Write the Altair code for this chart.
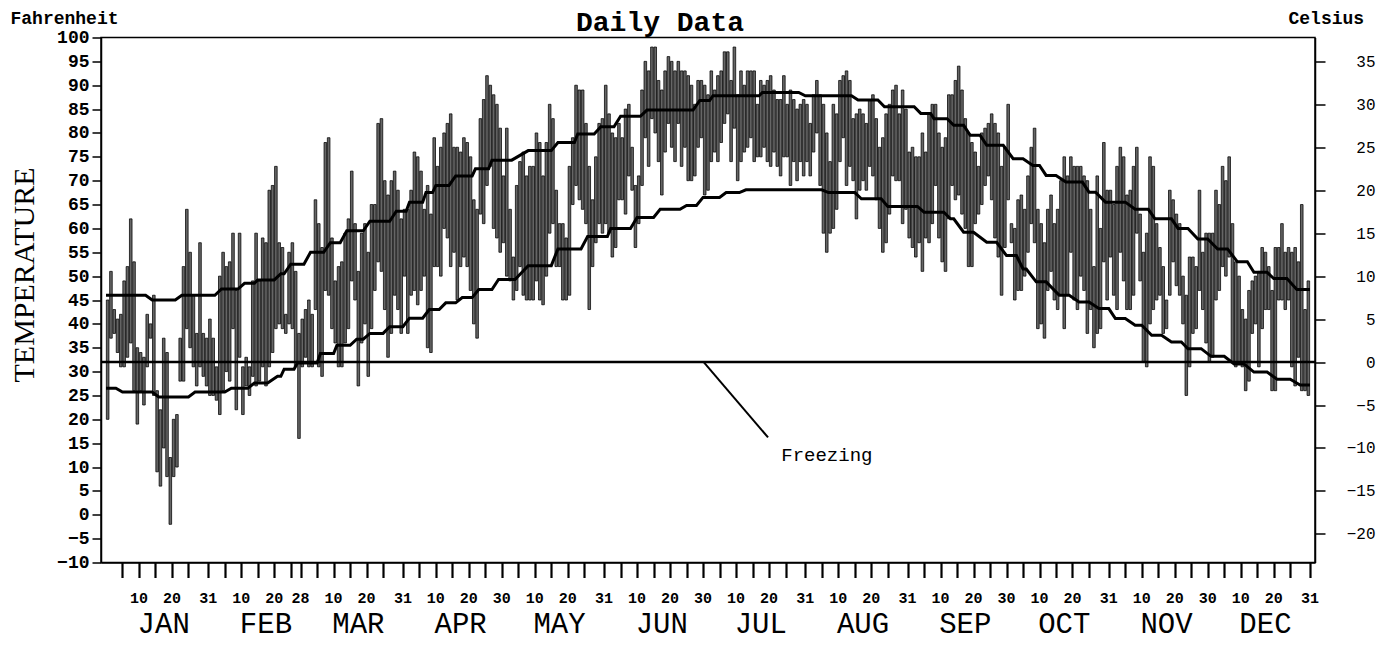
import altair as alt
import pandas as pd

# ---------------- data ----------------
MONTHS = ["JAN", "FEB", "MAR", "APR", "MAY", "JUN", "JUL", "AUG", "SEP", "OCT", "NOV", "DEC"]
MONTH_DAYS = [31, 28, 31, 30, 31, 30, 31, 31, 30, 31, 30, 31]

hi_jan = [45, 51, 43, 41, 42, 49, 52, 62, 53, 35, 34, 33, 42, 40, 46, 26, 22, 37, 34, 12, 20, 21, 37, 52, 64, 55, 46, 38, 57, 38, 37]
lo_jan = [20, 37, 38, 34, 31, 31, 33, 36, 26, 19, 26, 23, 31, 37, 25, 9, 6, 14, 8, -2, 8, 10, 28, 28, 39, 35, 31, 27, 31, 29, 27]
hi_feb = [41, 37, 31, 50, 55, 52, 53, 59, 47, 59, 31, 33, 31, 49, 59, 49, 58, 57, 68, 69, 73, 57, 56, 42, 55, 57, 51, 38]
lo_feb = [25, 25, 24, 21, 26, 30, 28, 39, 22, 33, 21, 27, 25, 29, 27, 28, 31, 27, 31, 34, 39, 40, 39, 38, 40, 39, 31, 16]
hi_mar = [41, 43, 45, 42, 66, 61, 56, 78, 79, 58, 49, 52, 53, 59, 62, 72, 61, 51, 59, 61, 55, 65, 65, 82, 83, 70, 67, 70, 72, 68, 62]
lo_mar = [31, 33, 31, 31, 43, 31, 29, 47, 46, 39, 36, 31, 31, 36, 39, 49, 45, 27, 36, 40, 29, 39, 47, 53, 51, 43, 33, 38, 46, 43, 38]
hi_apr = [64, 64, 68, 76, 75, 72, 64, 69, 63, 79, 73, 77, 80, 82, 84, 77, 77, 76, 79, 78, 75, 66, 64, 83, 87, 92, 90, 88, 86, 81]
lo_apr = [50, 38, 46, 47, 44, 47, 50, 35, 34, 52, 52, 50, 60, 58, 52, 55, 45, 52, 54, 52, 47, 40, 37, 63, 61, 69, 73, 60, 58, 55]
hi_may = [71, 81, 64, 54, 69, 74, 76, 71, 73, 73, 80, 78, 71, 78, 86, 83, 68, 61, 61, 58, 73, 79, 90, 89, 89, 82, 73, 66, 75, 82, 83]
lo_may = [57, 50, 49, 45, 47, 52, 46, 45, 45, 45, 49, 45, 44, 50, 59, 61, 52, 52, 45, 45, 46, 65, 69, 66, 64, 61, 43, 52, 57, 61, 59]
hi_jun = [90, 84, 80, 79, 82, 79, 85, 86, 77, 69, 71, 89, 95, 93, 98, 98, 91, 89, 93, 96, 95, 93, 95, 93, 93, 92, 90, 86, 91, 91]
lo_jun = [61, 59, 54, 56, 66, 66, 63, 71, 68, 56, 61, 69, 79, 73, 83, 80, 74, 67, 76, 82, 77, 74, 82, 73, 77, 70, 70, 71, 77, 79]
hi_jul = [90, 88, 93, 89, 92, 93, 97, 97, 91, 98, 88, 93, 90, 93, 93, 93, 86, 91, 90, 91, 92, 89, 87, 87, 92, 86, 89, 87, 85, 86, 87]
lo_jul = [67, 68, 74, 76, 74, 78, 82, 84, 74, 81, 70, 74, 76, 77, 79, 74, 75, 75, 77, 74, 73, 76, 73, 71, 75, 75, 69, 74, 70, 74, 71]
hi_aug = [86, 82, 88, 91, 88, 86, 80, 74, 86, 84, 91, 92, 93, 91, 83, 84, 85, 84, 82, 87, 88, 83, 77, 79, 84, 86, 89, 90, 84, 89, 85]
lo_aug = [74, 71, 76, 80, 69, 59, 55, 59, 60, 64, 74, 79, 69, 73, 70, 62, 68, 70, 68, 73, 71, 66, 60, 55, 57, 63, 71, 70, 70, 61, 64]
hi_sep = [76, 77, 75, 75, 80, 76, 84, 86, 86, 80, 77, 79, 88, 88, 91, 94, 89, 83, 80, 78, 76, 73, 80, 81, 82, 84, 82, 80, 73, 77]
lo_sep = [58, 56, 54, 57, 51, 58, 57, 61, 69, 58, 53, 51, 62, 69, 66, 67, 63, 60, 52, 52, 61, 63, 65, 69, 71, 66, 58, 54, 46, 56]
hi_oct = [86, 61, 60, 66, 67, 64, 71, 77, 81, 64, 61, 57, 64, 67, 61, 64, 70, 75, 71, 75, 73, 73, 73, 71, 70, 64, 52, 71, 60, 78, 68]
lo_oct = [66, 57, 45, 47, 47, 50, 55, 61, 57, 39, 40, 37, 47, 51, 45, 43, 46, 39, 46, 55, 45, 43, 50, 47, 38, 43, 35, 38, 39, 53, 45]
hi_nov = [68, 65, 73, 77, 75, 67, 68, 73, 77, 63, 55, 59, 75, 73, 61, 56, 52, 45, 68, 66, 63, 61, 50, 46, 54, 54, 52, 68, 55, 59]
lo_nov = [54, 46, 43, 55, 49, 43, 43, 46, 59, 49, 32, 31, 40, 43, 45, 46, 38, 39, 46, 53, 48, 46, 40, 25, 31, 38, 39, 47, 43, 36]
hi_dec = [59, 59, 68, 65, 73, 70, 75, 61, 53, 50, 43, 41, 47, 49, 50, 51, 56, 55, 52, 47, 56, 56, 61, 55, 56, 55, 56, 53, 65, 43, 49]
lo_dec = [32, 33, 45, 47, 52, 50, 54, 32, 31, 32, 31, 26, 28, 38, 40, 31, 39, 43, 43, 26, 26, 45, 45, 43, 45, 31, 27, 33, 26, 26, 25]

# normal high / low curves: plateaus (from day, to day, value in F)
norm_hi_from = [0, 14, 23, 35, 42, 46, 53, 56, 62, 68, 73, 80, 88, 92, 97, 100, 106, 112, 117, 128, 137, 143, 150, 156, 164, 180, 184, 199, 212, 228, 236, 247, 251, 257, 262, 267, 275, 281, 285, 291, 298, 303, 312, 318, 325, 331, 337, 343, 348, 354, 361]
norm_hi_to = [12, 21, 33, 40, 45, 51, 54, 60, 66, 71, 78, 86, 91, 96, 99, 104, 111, 116, 123, 135, 142, 148, 154, 162, 178, 183, 198, 210, 226, 234, 245, 250, 255, 260, 265, 272, 278, 283, 288, 296, 300, 309, 316, 323, 328, 334, 340, 346, 352, 358, 365]
norm_hi_val = [46, 45, 46, 47.3, 48.5, 49.2, 50.5, 52.5, 55, 57, 59.5, 61.5, 63.6, 65.5, 67.5, 69, 71, 72.5, 74.3, 76.3, 78, 79.8, 81.3, 83.5, 84.8, 86.8, 87.8, 88.5, 87.8, 86.9, 85.5, 84.1, 83, 81.6, 79.5, 77.4, 74.6, 73.2, 71.1, 69.7, 67.6, 65.5, 64, 62, 60, 57.8, 55.7, 53, 50.8, 49.5, 47.2]

norm_lo_from = [0, 5, 16, 27, 38, 45, 52, 54, 58, 65, 70, 76, 80, 86, 92, 98, 103, 108, 113, 119, 128, 137, 146, 153, 161, 168, 176, 181, 188, 194, 219, 229, 237, 248, 256, 260, 267, 273, 278, 282, 289, 295, 301, 306, 312, 317, 323, 328, 335, 342, 348, 355, 362]
norm_lo_to = [3, 14, 25, 36, 43, 49, 53, 57, 64, 69, 74, 78, 84, 90, 96, 101, 106, 111, 117, 124, 135, 144, 152, 159, 166, 174, 179, 186, 192, 217, 227, 235, 246, 254, 257, 263, 270, 276, 279, 285, 292, 298, 304, 309, 314, 320, 326, 332, 339, 345, 352, 359, 365]
norm_lo_val = [26.5, 25.7, 24.7, 25.7, 26.5, 27.6, 29, 30.5, 31.8, 33.8, 35.5, 36.8, 38, 39.4, 41.2, 43, 44.4, 45.5, 47.2, 49.3, 52.2, 55.7, 58.3, 60, 62.3, 64, 64.8, 66.5, 67.5, 68.1, 67.5, 66.2, 64.6, 63.4, 62, 59.2, 57.1, 54.3, 51.5, 48.8, 46, 44.6, 43.2, 41.1, 39.7, 37.6, 36.2, 34.8, 33.2, 31.6, 29.9, 28.4, 27.2]

FREEZING_F = 32
FAHRENHEIT_TICKS = list(range(-10, 101, 5))
CELSIUS_TICKS = list(range(-20, 36, 5))
freezing_pointer = {"day": [181.2], "temp": [32], "day2": [200.7], "temp2": [16.2]}
freezing_label = {"day": [204.7], "temp": [11.3], "text": ["Freezing"]}

# ---------------- tables ----------------
highs_by_month = [hi_jan, hi_feb, hi_mar, hi_apr, hi_may, hi_jun, hi_jul, hi_aug, hi_sep, hi_oct, hi_nov, hi_dec]
lows_by_month = [lo_jan, lo_feb, lo_mar, lo_apr, lo_may, lo_jun, lo_jul, lo_aug, lo_sep, lo_oct, lo_nov, lo_dec]
for n, h, l, m in zip(MONTH_DAYS, highs_by_month, lows_by_month, MONTHS):
    assert len(h) == n and len(l) == n, m

highs = sum(highs_by_month, [])
lows = sum(lows_by_month, [])
daily = pd.DataFrame({"day": [d - 0.5 for d in range(1, 366)], "high": highs, "low": lows})


def plateau_df(frm, to, val):
    rows = []
    for a, b, v in zip(frm, to, val):
        rows.append((a, v))
        rows.append((b, v))
    return pd.DataFrame(rows, columns=["day", "temp"])


norm_hi = plateau_df(norm_hi_from, norm_hi_to, norm_hi_val)
norm_lo = plateau_df(norm_lo_from, norm_lo_to, norm_lo_val)

starts = []
acc = 0
for n in MONTH_DAYS:
    starts.append(acc)
    acc += n
tick_vals, lab_pos, lab_txt = [], [], []
for s, n in zip(starts, MONTH_DAYS):
    tick_vals += [s + 5, s + 10, s + 15, s + 20, s + 25, s + n]
    lab_pos += [s + 10, s + 20, s + n]
    lab_txt += ["10", "20", str(n)]
tick_labels = pd.DataFrame({"pos": lab_pos, "txt": lab_txt})
month_labels = pd.DataFrame({"pos": [s + 17.5 for s in starts], "name": MONTHS})

# ---------------- chart ----------------
W, H = 1214, 525
MONO = "Liberation Mono"
xscale = alt.Scale(domain=[0, 365], nice=False, zero=False)
yscale = alt.Scale(domain=[-10, 100], nice=False, zero=False)
xaxis = alt.Axis(values=tick_vals, labels=False, title=None, grid=False, tickSize=15,
                 tickWidth=2.2, tickColor="black", domainColor="black", domainWidth=1.5)
yaxis = alt.Axis(values=FAHRENHEIT_TICKS, title="Fahrenheit", titleAngle=0, titleAlign="left",
                 titleBaseline="alphabetic", titleX=-91, titleY=-14, titleFont=MONO,
                 titleFontSize=18, titleFontWeight="bold", titleColor="black",
                 labelFont=MONO, labelFontSize=18, labelFontWeight="bold", labelColor="black",
                 labelPadding=3, labelFlush=False, labelOverlap=False, tickSize=9, tickWidth=1.5,
                 tickColor="black", domainColor="black", domainWidth=1.5, grid=False)


def X(field):
    return alt.X(field, type="quantitative", scale=xscale, axis=xaxis)


def Y(field):
    return alt.Y(field, type="quantitative", scale=yscale, axis=yaxis)


bars = alt.Chart(daily).mark_bar(size=2.6, fill="#666666", stroke="black", strokeWidth=0.75).encode(
    x=X("day"), y=Y("low"), y2="high")

hi_line = alt.Chart(norm_hi).mark_line(color="black", strokeWidth=3).encode(x=X("day"), y=Y("temp"))
lo_line = alt.Chart(norm_lo).mark_line(color="black", strokeWidth=3).encode(x=X("day"), y=Y("temp"))

freeze = alt.Chart(pd.DataFrame({"temp": [FREEZING_F]})).mark_rule(color="black", strokeWidth=2.5).encode(
    y=Y("temp"))

pointer = alt.Chart(pd.DataFrame(freezing_pointer)).mark_rule(color="black", strokeWidth=2).encode(
    x=X("day"), y=Y("temp"), x2="day2", y2="temp2")

freeze_text = alt.Chart(pd.DataFrame(freezing_label)).mark_text(
    align="left", baseline="alphabetic", font=MONO, fontSize=19, color="black").encode(
    x=X("day"), y=Y("temp"), text="text:N")

ticklab = alt.Chart(tick_labels).mark_text(
    font=MONO, fontSize=15, fontWeight="bold", baseline="alphabetic", align="center", color="black").encode(
    x=X("pos"), y=alt.value(565.5), text="txt:N")

monthlab = alt.Chart(month_labels).mark_text(
    font=MONO, fontSize=29, baseline="alphabetic", align="center", color="black").encode(
    x=X("pos"), y=alt.value(595.5), text="name:N")

title = alt.Chart(pd.DataFrame({"t": ["Daily Data"]})).mark_text(
    font=MONO, fontSize=28, fontWeight="bold", align="center", baseline="alphabetic", color="black").encode(
    x=alt.value(559), y=alt.value(-7), text="t:N")

ylab = alt.Chart(pd.DataFrame({"t": ["TEMPERATURE"]})).mark_text(
    font="Liberation Serif", fontSize=30, angle=270, align="center", baseline="middle", color="black").encode(
    x=alt.value(-76), y=alt.value(237.5), text="t:N")

cel_axis = alt.Axis(orient="right", values=CELSIUS_TICKS, title="Celsius", titleAngle=0, titleAlign="left",
                    titleBaseline="alphabetic", titleX=-27, titleY=-14, titleFont=MONO, titleFontSize=18,
                    titleFontWeight="bold", titleColor="black", labelFont=MONO, labelFontSize=16,
                    labelColor="black", labelAlign="right", labelPadding=50, labelFlush=False,
                    labelOverlap=False, tickSize=10, tickWidth=1.5, tickColor="black",
                    domainColor="black", domainWidth=1.5, grid=False)
celsius = alt.Chart(pd.DataFrame({"c": CELSIUS_TICKS})).mark_point(opacity=0).encode(
    y=alt.Y("c:Q", scale=alt.Scale(domain=[(-10 - 32) * 5 / 9, (100 - 32) * 5 / 9], nice=False, zero=False),
            axis=cel_axis))

main = alt.layer(bars, hi_line, lo_line, freeze, pointer, freeze_text, ticklab, monthlab, title, ylab)

chart = alt.layer(main, celsius).resolve_scale(y="independent").properties(
    width=W, height=H,
    autosize=alt.AutoSizeParams(type="none"),
    padding={"left": 93, "top": 29.5, "right": 75, "bottom": 80},
    background="white",
).configure_view(stroke="black", strokeWidth=1.5)

chart.save("out.html", embed_options={"renderer": "svg", "actions": False})
